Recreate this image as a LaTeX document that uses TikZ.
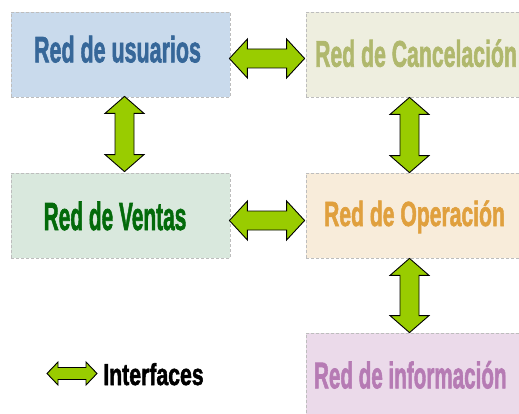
\documentclass[tikz,border=0pt]{standalone}
\usepackage{fontspec}
\usepackage{graphicx}
\setmainfont{Liberation Sans}
\newfontfamily\labfont{Liberation Sans}[BoldFeatures={FakeBold=2}]
\usetikzlibrary{calc}
\definecolor{boxgray}{HTML}{BDBDBD}
\definecolor{ifgreen}{HTML}{99CC00}
\definecolor{fillA}{HTML}{C9DAEC}
\definecolor{fillB}{HTML}{EEEEDF}
\definecolor{fillC}{HTML}{D9E8DD}
\definecolor{fillD}{HTML}{F8ECDA}
\definecolor{fillE}{HTML}{EBDAEA}
\definecolor{textA}{HTML}{366799}
\definecolor{textB}{HTML}{B0B86D}
\definecolor{textC}{HTML}{036A0A}
\definecolor{textD}{HTML}{E0A03E}
\definecolor{textE}{HTML}{B67BB4}
\newcommand\lbltext[3]{\scalebox{#1}[#2]{\fontsize{36}{40}\labfont\bfseries #3}}
% horizontal double arrow: left tip, right tip, head length, head half width, shaft half width
\newcommand\harr[5]{\draw[iface] let \p1=(#1), \p2=(#2) in
  (\x1,\y1) -- (\x1+#3,\y1+#4) -- (\x1+#3,\y1+#5) -- (\x2-#3,\y1+#5) -- (\x2-#3,\y1+#4)
  -- (\x2,\y1) -- (\x2-#3,\y1-#4) -- (\x2-#3,\y1-#5) -- (\x1+#3,\y1-#5) -- (\x1+#3,\y1-#4) -- cycle;}
% vertical double arrow: top tip, bottom tip, head length, head half width, shaft half width
\newcommand\varr[5]{\draw[iface] let \p1=(#1), \p2=(#2) in
  (\x1,\y1) -- (\x1+#4,\y1-#3) -- (\x1+#5,\y1-#3) -- (\x1+#5,\y2+#3) -- (\x1+#4,\y2+#3)
  -- (\x1,\y2) -- (\x1-#4,\y2+#3) -- (\x1-#5,\y2+#3) -- (\x1-#5,\y1-#3) -- (\x1-#4,\y1-#3) -- cycle;}
\tikzset{
  box/.style={draw=boxgray, dash pattern=on 3pt off 2pt, line width=0.8pt,
    minimum width=219pt, minimum height=85pt, inner sep=0pt},
  lbl/.style={anchor=base, inner sep=0pt},
  iface/.style={draw=black, line width=0.9pt, fill=ifgreen, line join=miter},
}
\begin{document}
\begin{tikzpicture}[x=1pt,y=-1pt]
\useasboundingbox (0,0) rectangle (519,414);
\clip (0,0) rectangle (519,414);
% boxes
\node[box, fill=fillA] (B1) at (120.5,54.5) {};
\node[box, fill=fillB] (B2) at (415.5,54.5) {};
\node[box, fill=fillC] (B3) at (120.5,215.5) {};
\node[box, fill=fillD] (B4) at (415.5,215.5) {};
\node[box, fill=fillE, minimum height=90pt] (B5) at (415.5,378) {};
% labels
\node[lbl, text=textA] (L1) at (117.5,62.3) {\lbltext{0.596}{1.02}{Red de usuarios}};
\node[lbl, text=textB] (L2) at (416,66.7) {\lbltext{0.590}{1.03}{Red de Cancelación}};
\node[lbl, text=textC] (L3) at (115,230) {\lbltext{0.58}{1.09}{Red de Ventas}};
\node[lbl, text=textD] (L4) at (414.5,226) {\lbltext{0.587}{0.97}{Red de Operación}};
\node[lbl, text=textE] (L5) at (410.3,388.3) {\lbltext{0.573}{1.03}{Red de información}};
% connector end points
\coordinate (h1a) at ($(B1.east)+(-1,4)$);
\coordinate (h1b) at ($(B2.west)+(-1,4)$);
\coordinate (h2a) at ($(B3.east)+(-1,5)$);
\coordinate (h2b) at ($(B4.west)+(-1,5)$);
\coordinate (v1a) at ($(B1.south)+(4,-1)$);
\coordinate (v1b) at ($(B3.north)+(4,-1)$);
\coordinate (v2a) at ($(B2.south)+(-6,0)$);
\coordinate (v2b) at ($(B4.north)+(-6,0)$);
\coordinate (v3a) at ($(B4.south)+(-6,0)$);
\coordinate (v3b) at ($(B5.north)+(-6,0)$);
% interface arrows
\harr{h1a}{h1b}{18pt}{19.5pt}{9.5pt}
\harr{h2a}{h2b}{18pt}{19.5pt}{9.5pt}
\varr{v1a}{v1b}{17pt}{19.5pt}{9.5pt}
\varr{v2a}{v2b}{17pt}{19.5pt}{9.5pt}
\varr{v3a}{v3b}{17pt}{19.5pt}{9.5pt}
% legend
\coordinate (ifl) at (47,373.5);
\coordinate (ifr) at (97,373.5);
\harr{ifl}{ifr}{11pt}{11.5pt}{6pt}
\node[lbl, text=black] (LI) at (153.5,385) {\lbltext{0.59}{0.84}{Interfaces}};
\end{tikzpicture}
\end{document}
